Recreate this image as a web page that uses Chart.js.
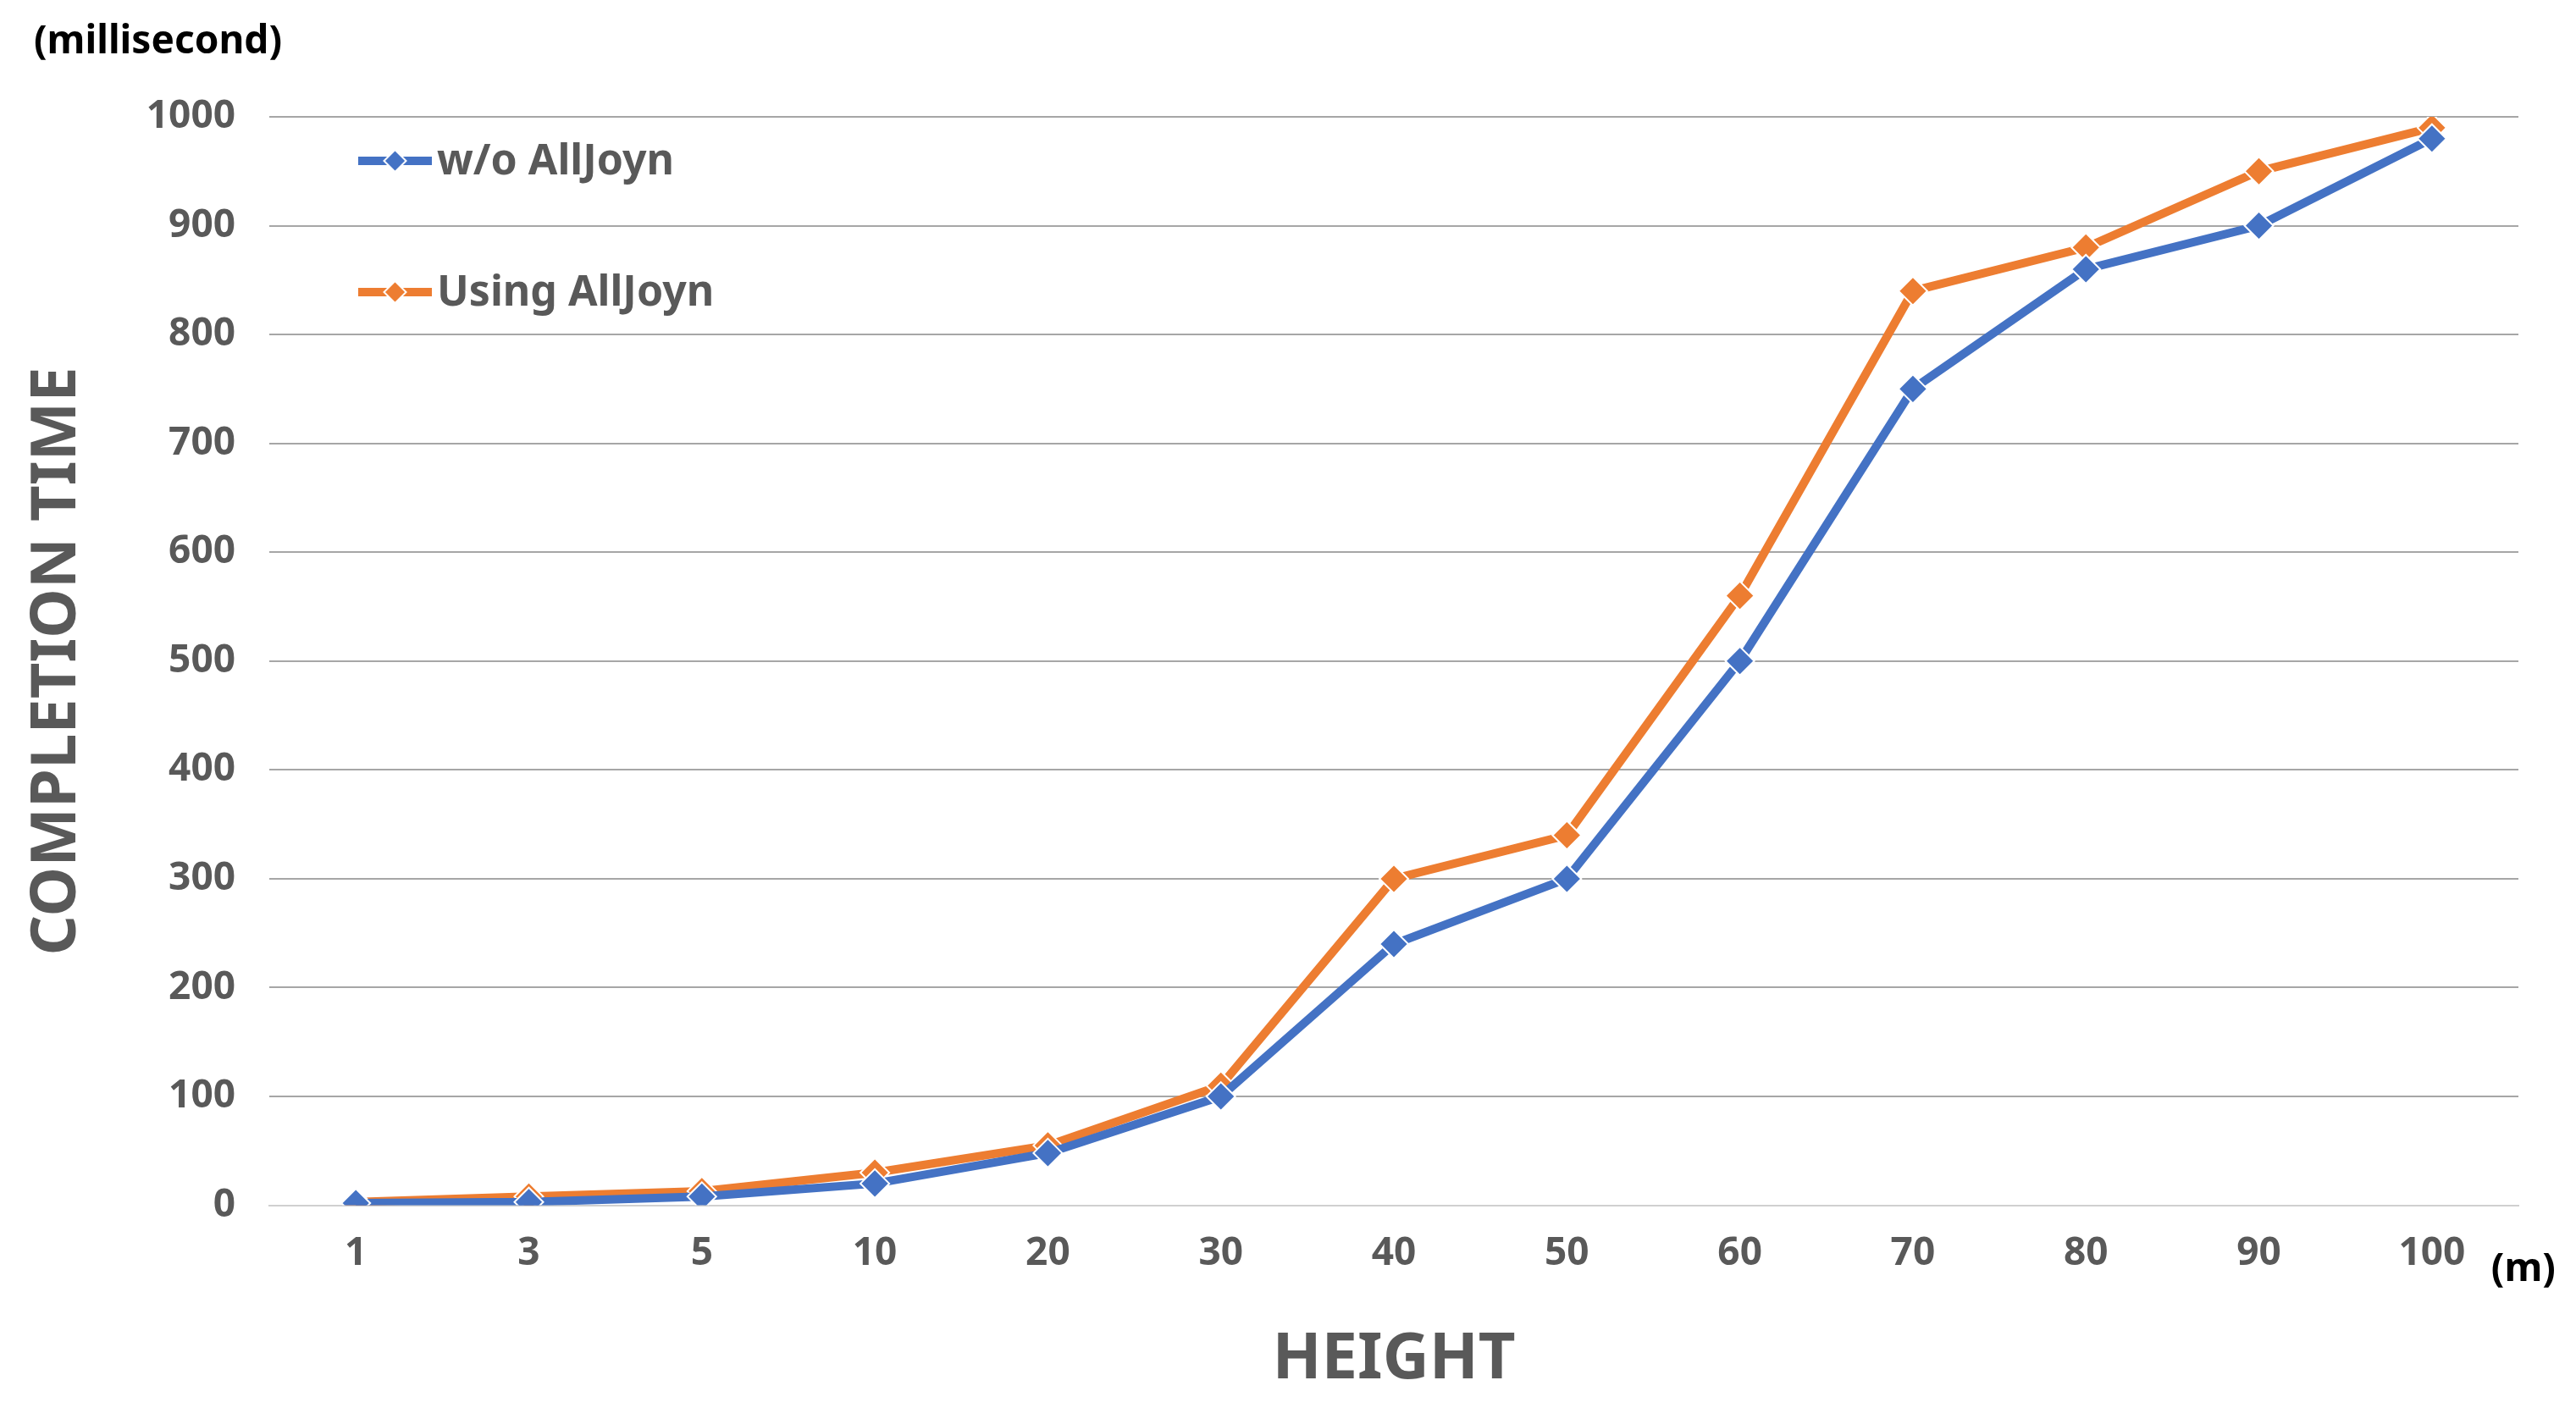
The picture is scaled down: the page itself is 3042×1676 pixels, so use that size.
<!DOCTYPE html>
<html>
<head>
<meta charset="utf-8">
<script src="https://cdn.jsdelivr.net/npm/chart.js@4/dist/chart.umd.min.js"></script>
<style>
  html, body { margin: 0; padding: 0; background: #fff; }
  #wrap { width: 3042px; height: 1676px; }
</style>
</head>
<body>
<div id="wrap"><canvas id="c" width="3042" height="1676"></canvas></div>
<script>
// heights (m)
const heights = ['1', '3', '5', '10', '20', '30', '40', '50', '60', '70', '80', '90', '100'];
// completion time (millisecond)
const withoutAllJoyn = [2, 3, 8, 20, 48, 100, 240, 300, 500, 750, 860, 900, 980];
const usingAllJoyn = [3, 8, 13, 30, 55, 110, 300, 340, 560, 840, 880, 950, 990];

const BLUE = '#4472c4';
const ORANGE = '#ed7d31';
const GREY = '#595959';
const FONT = "'Noto Sans', 'DejaVu Sans', sans-serif";

// legend inside the plot + unit labels
const extras = {
  id: 'extras',
  afterDraw(chart) {
    const ctx = chart.ctx;
    const area = chart.chartArea;
    ctx.save();
    ctx.font = 'bold 46px ' + FONT;
    ctx.fillStyle = '#000';
    ctx.textBaseline = 'middle';
    ctx.textAlign = 'left';
    ctx.fillText('(millisecond)', 40, 50);
    const xs = chart.scales.x;
    ctx.fillText('(m)', xs.getPixelForValue(12) + 70, area.bottom + 76);

    const items = [['w/o AllJoyn', BLUE, 190], ['Using AllJoyn', ORANGE, 345]];
    items.forEach(([label, color, y]) => {
      const x0 = 423, x1 = 510;
      ctx.strokeStyle = color;
      ctx.lineWidth = 10;
      ctx.beginPath(); ctx.moveTo(x0, y); ctx.lineTo(x1, y); ctx.stroke();
      ctx.fillStyle = color;
      ctx.strokeStyle = '#fff';
      ctx.lineWidth = 2;
      ctx.beginPath();
      const cx = (x0 + x1) / 2, r = 13;
      ctx.moveTo(cx, y - r); ctx.lineTo(cx + r, y); ctx.lineTo(cx, y + r); ctx.lineTo(cx - r, y);
      ctx.closePath(); ctx.fill(); ctx.stroke();
      ctx.fillStyle = GREY;
      ctx.font = 'bold 50px ' + FONT;
      ctx.fillText(label, 516, y + 2);
    });
    ctx.restore();
  }
};

const ds = (label, data, color) => ({
  label, data,
  borderColor: color,
  backgroundColor: color,
  borderWidth: 10,
  pointStyle: 'rectRot',
  pointRadius: 17,
  pointHoverRadius: 17,
  pointBorderColor: '#fff',
  pointBorderWidth: 2,
  tension: 0
});

new Chart(document.getElementById('c'), {
  type: 'line',
  data: {
    labels: heights,
    datasets: [ds('w/o AllJoyn', withoutAllJoyn, BLUE), ds('Using AllJoyn', usingAllJoyn, ORANGE)]
  },
  options: {
    responsive: false,
    animation: false,
    devicePixelRatio: 1,
    layout: { padding: { top: 138, right: 68, left: 20, bottom: 20 } },
    plugins: { legend: { display: false }, tooltip: { enabled: false } },
    scales: {
      x: {
        offset: true,
        grid: { display: false },
        border: { color: '#d0d0d0', width: 2 },
        ticks: { color: GREY, font: { family: FONT, size: 46, weight: 'bold' }, padding: 22 },
        title: { display: true, text: 'HEIGHT', color: GREY, padding: { top: 30 },
                 font: { family: FONT, size: 76, weight: 'bold' } }
      },
      y: {
        min: 0, max: 1000,
        ticks: { stepSize: 100, color: GREY, padding: 40, callback: v => String(v),
                 font: { family: FONT, size: 46, weight: 'bold' } },
        grid: { color: '#a6a6a6', lineWidth: 2, drawTicks: false },
        border: { display: false },
        title: { display: true, text: 'COMPLETION TIME', color: GREY, padding: { bottom: 20 },
                 font: { family: FONT, size: 74, weight: 'bold' } }
      }
    }
  },
  plugins: [extras]
});
</script>
</body>
</html>
